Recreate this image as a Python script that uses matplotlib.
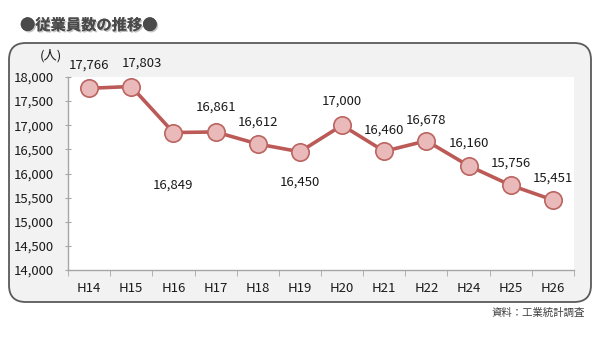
import matplotlib
matplotlib.use("Agg")
import matplotlib.pyplot as plt
from matplotlib.patches import FancyBboxPatch
from matplotlib.ticker import FuncFormatter, MultipleLocator
import matplotlib.patheffects as pe

plt.rcParams['font.family'] = ['Noto Sans CJK JP', 'DejaVu Sans']

years = ["H14", "H15", "H16", "H17", "H18", "H19", "H20", "H21", "H22", "H24", "H25", "H26"]
employees = [17766, 17803, 16849, 16861, 16612, 16450, 17000, 16460, 16678, 16160, 15756, 15451]
# label offsets in points (dx, dy) relative to each marker
label_offsets = [(0, 17), (8, 17), (0, -38), (0, 18), (0, 16), (0, -22),
                 (0, 17), (0, 15), (0, 15), (0, 16), (0, 16), (0, 16)]

W, H = 600, 338
fig = plt.figure(figsize=(W / 100, H / 100), dpi=100)
fig.patch.set_facecolor("white")

# rounded frame behind the chart
frame = FancyBboxPatch((9 / W, 1 - 302 / H), (591 - 9) / W, (302 - 43) / H,
                       boxstyle="round,pad=0,rounding_size=0.028",
                       transform=fig.transFigure, facecolor="#f2f2f2",
                       edgecolor="#5a5a5a", linewidth=1.3, mutation_aspect=W / H,
                       zorder=-5)
fig.patches.append(frame)

ax = fig.add_axes([68 / W, 1 - 270 / H, (574 - 68) / W, (270 - 77) / H])
ax.set_zorder(2)
ax.set_facecolor("white")
x = list(range(len(years)))
ax.plot(x, employees, color="#bb5a56", linewidth=2.6, marker="o",
        markersize=12.5, markerfacecolor="#eab9b9", markeredgecolor="#bb6460",
        markeredgewidth=1.2, zorder=3, clip_on=False)

for xi, v, (dx, dy) in zip(x, employees, label_offsets):
    ax.annotate(f"{v:,}", (xi, v), xytext=(dx, dy), textcoords="offset points",
                ha="center", va="center", fontsize=9.5, color="#1a1a1a")

ax.set_xlim(-0.5, len(years) - 0.5)
ax.set_ylim(14000, 18000)
ax.yaxis.set_major_locator(MultipleLocator(500))
ax.yaxis.set_major_formatter(FuncFormatter(lambda v, p: f"{int(v):,}"))
ax.set_xticks(x)
ax.set_xticklabels(years)
ax.set_xticks([i - 0.5 for i in range(len(years) + 1)], minor=True)
ax.tick_params(axis="x", which="major", length=0, pad=9, labelsize=9.5, colors="#1a1a1a")
ax.tick_params(axis="x", which="minor", length=4, color="#a6a6a6", direction="out")
ax.tick_params(axis="y", length=4, color="#a6a6a6", direction="inout", pad=8.5,
               labelsize=9.5, labelcolor="#1a1a1a")
for side in ("top", "right"):
    ax.spines[side].set_visible(False)
for side in ("left", "bottom"):
    ax.spines[side].set_color("#a6a6a6")
    ax.spines[side].set_linewidth(1.0)

fig.text(51 / W, 1 - 56 / H, "(人)", ha="center", va="center", fontsize=9.5, color="#1a1a1a")
fig.text(20 / W, 1 - 25 / H, "●従業員数の推移●", ha="left", va="center",
         fontsize=11, color="#4a4a4a", fontweight="bold",
         path_effects=[pe.withSimplePatchShadow(offset=(1, -1), shadow_rgbFace="#9a9a9a", alpha=0.6),
                       pe.Normal()])
fig.text(585 / W, 1 - 313 / H, "資料：工業統計調査", ha="right", va="center",
         fontsize=7.5, color="#404040")

fig.savefig("out.png", dpi=100)
